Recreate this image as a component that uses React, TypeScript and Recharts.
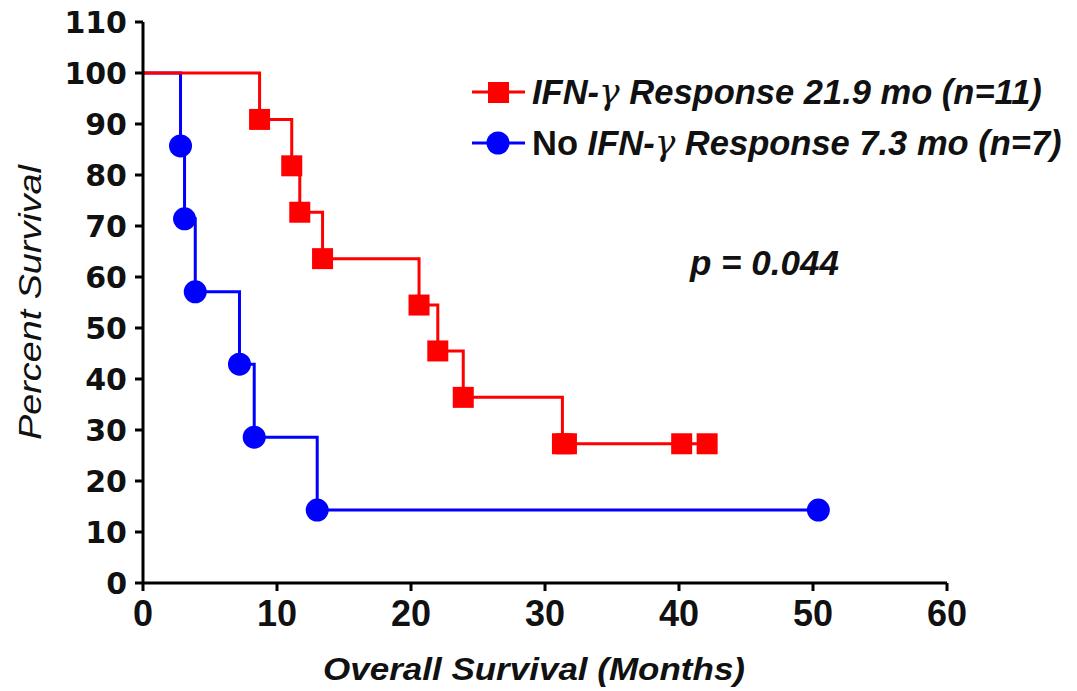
import React from 'react';
import { LineChart, Line, XAxis, YAxis, Label } from 'recharts';

// Kaplan-Meier steps: time (months) and percent surviving
const responseMonths = [0, 8.7, 11.1, 11.7, 13.4, 20.6, 22.0, 23.9, 31.3, 31.6, 40.2, 42.1];
const responseSurvival = [100, 90.9, 81.8, 72.7, 63.6, 54.5, 45.5, 36.4, 27.3, 27.3, 27.3, 27.3];
const noResponseMonths = [0, 2.8, 3.1, 3.9, 7.2, 8.3, 13.0, 50.4];
const noResponseSurvival = [100, 85.7, 71.4, 57.1, 42.9, 28.6, 14.3, 14.3];

const xTicks = [0, 10, 20, 30, 40, 50, 60];
const yTicks = [0, 10, 20, 30, 40, 50, 60, 70, 80, 90, 100, 110];

const RED = '#ff0000';
const BLUE = '#0000ff';
const INK = '#111';
const SANS = '"Liberation Sans", Arial, sans-serif';

const responseData = responseMonths.map((t, i) => ({ t, s: responseSurvival[i] }));
const noResponseData = noResponseMonths.map((t, i) => ({ t, s: noResponseSurvival[i] }));

const squareDot = (props: any) => {
  const { cx, cy, index } = props;
  if (index === 0) return <g key={`rs-${index}`} />;
  return <rect key={`rs-${index}`} x={cx - 10.5} y={cy - 10.5} width={21} height={21} fill={RED} />;
};

const circleDot = (props: any) => {
  const { cx, cy, index } = props;
  if (index === 0) return <g key={`bc-${index}`} />;
  return <circle key={`bc-${index}`} cx={cx} cy={cy} r={11.5} fill={BLUE} />;
};

const yTitle = (props: any) => {
  const { viewBox } = props;
  const cy = viewBox.y + viewBox.height / 2;
  return (
    <text
      x={41}
      y={cy}
      transform={`rotate(-90, 41, ${cy})`}
      textAnchor="middle"
      textLength={275}
      lengthAdjust="spacingAndGlyphs"
      fill={INK}
      fontSize={31}
      fontStyle="italic"
      fontFamily={SANS}
    >
      Percent Survival
    </text>
  );
};

const xTitle = () => (
  <text
    x={534}
    y={680}
    textAnchor="middle"
    textLength={422}
    lengthAdjust="spacingAndGlyphs"
    fill={INK}
    fontSize={32}
    fontStyle="italic"
    fontWeight="bold"
    fontFamily={SANS}
  >
    Overall Survival (Months)
  </text>
);

const gamma = (
  <tspan fontFamily='"DejaVu Serif", serif' fontWeight="normal" fontStyle="italic">
    γ
  </tspan>
);

export default function App() {
  return (
    <div style={{ position: 'absolute', left: 0, top: 0, width: 1077, height: 691, background: '#fff' }}>
      <LineChart width={1077} height={691} margin={{ top: 22, right: 130, bottom: 0, left: 0 }}>
        <XAxis
          dataKey="t"
          type="number"
          domain={[0, 60]}
          ticks={xTicks}
          allowDuplicatedCategory={false}
          height={108}
          stroke="#000"
          axisLine={{ strokeWidth: 3 }}
          tickLine={{ strokeWidth: 3 }}
          tickSize={8}
          tickMargin={9}
          tick={{ fill: INK, fontSize: 36, fontWeight: 'bold', fontFamily: SANS }}
        >
          <Label content={xTitle} />
        </XAxis>
        <YAxis
          dataKey="s"
          type="number"
          domain={[0, 110]}
          ticks={yTicks}
          width={143}
          stroke="#000"
          axisLine={{ strokeWidth: 3 }}
          tickLine={{ strokeWidth: 3 }}
          tickSize={8}
          tickMargin={8}
          tick={{ fill: INK, fontSize: 30, fontWeight: 'bold', fontFamily: '"DejaVu Sans", sans-serif' }}
        >
          <Label content={yTitle} />
        </YAxis>
        <Line
          data={noResponseData}
          dataKey="s"
          name="No IFN-γ Response 7.3 mo (n=7)"
          type="stepAfter"
          stroke={BLUE}
          strokeWidth={3}
          dot={circleDot}
          activeDot={false}
          isAnimationActive={false}
        />
        <Line
          data={responseData}
          dataKey="s"
          name="IFN-γ Response 21.9 mo (n=11)"
          type="stepAfter"
          stroke={RED}
          strokeWidth={3}
          dot={squareDot}
          activeDot={false}
          isAnimationActive={false}
        />
      </LineChart>
      {/* legend and p value */}
      <svg width={1077} height={691} style={{ position: 'absolute', left: 0, top: 0, pointerEvents: 'none' }}>
        <line x1={472} y1={92} x2={525} y2={92} stroke={RED} strokeWidth={3} />
        <rect x={488} y={82} width={21} height={21} fill={RED} />
        <text x={532} y={104} fill={INK} fontSize={34.5} fontWeight="bold" fontStyle="italic" fontFamily={SANS}>
          <tspan>IFN-</tspan>
          {gamma}
          <tspan> Response 21.9 mo (n=11)</tspan>
        </text>
        <line x1={472} y1={143} x2={525} y2={143} stroke={BLUE} strokeWidth={3} />
        <circle cx={498} cy={143} r={11.5} fill={BLUE} />
        <text x={532} y={155} fill={INK} fontSize={34.5} fontWeight="bold" fontFamily={SANS}>
          <tspan>No </tspan>
          <tspan fontStyle="italic">IFN-</tspan>
          {gamma}
          <tspan fontStyle="italic"> Response 7.3 mo (n=7)</tspan>
        </text>
        <text x={690} y={275} fill={INK} fontSize={35} fontWeight="bold" fontStyle="italic" fontFamily={SANS}>
          p = 0.044
        </text>
      </svg>
    </div>
  );
}
